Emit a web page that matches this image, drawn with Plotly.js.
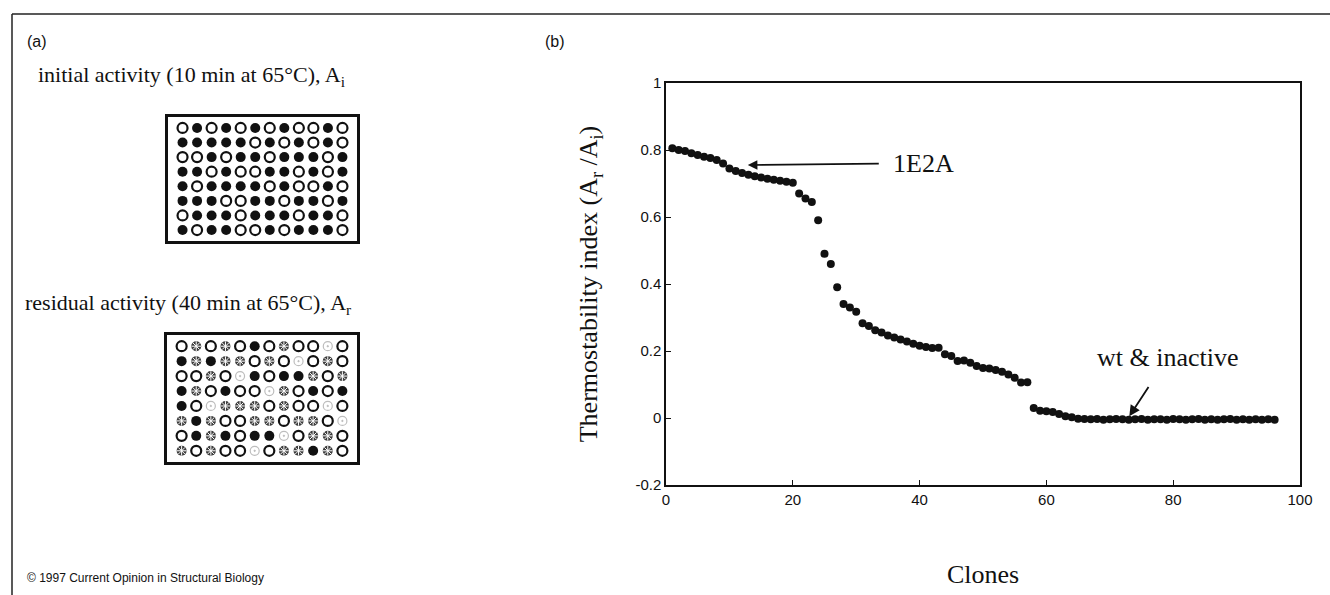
<!DOCTYPE html>
<html>
<head>
<meta charset="utf-8">
<script src="https://cdn.plot.ly/plotly-3.0.1.min.js"></script>
<style>html,body{margin:0;padding:0;background:#fff;}#chart{width:1330px;height:595px;}</style>
</head>
<body>
<div id="chart"></div>
<script>
// ---------- DATA ----------
const clones = [1,2,3,4,5,6,7,8,9,10,11,12,13,14,15,16,17,18,19,20,21,22,23,24,25,26,27,28,29,30,31,32,
  33,34,35,36,37,38,39,40,41,42,43,44,45,46,47,48,49,50,51,52,53,54,55,56,57,58,59,60,61,62,63,64,
  65,66,67,68,69,70,71,72,73,74,75,76,77,78,79,80,81,82,83,84,85,86,87,88,89,90,91,92,93,94,95,96];
const thermostability = [0.805,0.800,0.797,0.790,0.785,0.780,0.776,0.770,0.760,0.745,0.737,0.731,0.726,0.722,0.718,0.714,
  0.711,0.708,0.705,0.702,0.670,0.655,0.645,0.590,0.490,0.460,0.390,0.340,0.330,0.317,0.283,0.275,
  0.262,0.255,0.246,0.240,0.234,0.228,0.222,0.216,0.212,0.209,0.210,0.190,0.185,0.170,0.172,0.165,
  0.155,0.149,0.148,0.143,0.138,0.130,0.120,0.106,0.107,0.030,0.022,0.020,0.018,0.012,0.005,0.002,
  -0.002,-0.003,-0.004,-0.003,-0.005,-0.004,-0.003,-0.004,-0.005,-0.004,-0.003,-0.005,-0.004,-0.004,-0.005,-0.003,
  -0.004,-0.005,-0.004,-0.003,-0.005,-0.004,-0.005,-0.004,-0.003,-0.005,-0.004,-0.005,-0.004,-0.005,-0.004,-0.005];
const xTickVals = [0,20,40,60,80,100];
const xTickText = ["0","20","40","60","80","100"];
const yTickVals = [-0.2,0,0.2,0.4,0.6,0.8,1];
const yTickText = ["-0.2","0","0.2","0.4","0.6","0.8","1"];

// 96-well plates: O = open (inactive), X = filled (active), S = partially active (speckled), F = faint
const plateInitial = [
  "OXOXOXOXOOXO",
  "XXXXXOXOXOXO",
  "OOXOXXOXXXOX",
  "XXOXOOXXOXOX",
  "XOXXXXOXOOXO",
  "XXXOOXXOXXOX",
  "OXXXOXXXOXXO",
  "XOXXOOXOXXXO"
];
const plateResidual = [
  "OSOSOXOSOOFO",
  "XSXSSOSOFOSO",
  "OOSOFXOXXSOS",
  "XSOXOOFSOXOX",
  "XOFSSSOSOOFO",
  "SXSOOSSOSSOF",
  "OXSXOXXFOSSO",
  "SOSOOFOSSXSO"
];

const labelA = "(a)";
const labelB = "(b)";
const titleInitial = "initial activity (10 min at 65°C), A<sub>i</sub>";
const titleResidual = "residual activity (40 min at 65°C), A<sub>r</sub>";
const copyrightText = "© 1997 Current Opinion in Structural Biology";
const yTitle = "Thermostability index (A<sub>r</sub> /A<sub>i</sub>)";
const xTitle = "Clones";
const note1 = "1E2A";
const note2 = "wt &amp; inactive";
const note1Point = {clone:12.9, value:0.755};
const note2Point = {clone:72.9, value:0.0};

// ---------- BUILD ----------
const W = 1330, H = 595;
const px = v => v / W;
const py = v => 1 - v / H;
const serif = "Liberation Serif, Times New Roman, serif";
const sans = "Liberation Sans, Arial, sans-serif";

function plateTraces(rows, xa, ya) {
  const groups = {O:{x:[],y:[]}, X:{x:[],y:[]}, S:{x:[],y:[]}, F:{x:[],y:[]}};
  rows.forEach((row, r) => {
    [...row].forEach((c, k) => { groups[c].x.push(k + 1); groups[c].y.push(r + 1); });
  });
  const base = {type:'scatter', mode:'markers', xaxis:xa, yaxis:ya, hoverinfo:'skip', showlegend:false};
  return [
    Object.assign({}, base, {x:groups.O.x, y:groups.O.y,
      marker:{symbol:'circle-open', size:10, color:'#111', line:{width:2.2, color:'#111'}}}),
    Object.assign({}, base, {x:groups.X.x, y:groups.X.y,
      marker:{symbol:'circle', size:10, color:'#111'}}),
    Object.assign({}, base, {x:groups.S.x, y:groups.S.y,
      marker:{symbol:'circle', size:10, color:'#3c3c3c'}}),
    Object.assign({}, base, {x:groups.S.x, y:groups.S.y,
      marker:{symbol:'asterisk-open', size:8, color:'#fff', line:{width:1, color:'#fff'}}}),
    Object.assign({}, base, {x:groups.F.x, y:groups.F.y,
      marker:{symbol:'circle-open-dot', size:9, color:'#bdbdbd', line:{width:1.2, color:'#bdbdbd'}}})
  ];
}

const traces = [
  {type:'scatter', mode:'markers', x:clones, y:thermostability, xaxis:'x', yaxis:'y',
   marker:{symbol:'circle', size:8, color:'#111'}, hoverinfo:'x+y', showlegend:false}
].concat(plateTraces(plateInitial, 'x2', 'y2'), plateTraces(plateResidual, 'x3', 'y3'));

const plateAxis = (dom) => ({domain:dom, showline:true, mirror:true, linewidth:2.5, linecolor:'#111',
  ticks:'', showticklabels:false, showgrid:false, zeroline:false, fixedrange:true});

const layout = {
  width: W, height: H,
  margin: {l:0, r:0, t:0, b:0},
  paper_bgcolor:'#fff', plot_bgcolor:'#fff',
  showlegend:false,
  font:{family:sans, color:'#111'},
  xaxis: {
    domain:[px(666), px(1300)], range:[0,100],
    tickvals:xTickVals, ticktext:xTickText, ticks:'inside', ticklen:5, tickwidth:1.2, tickcolor:'#111',
    showline:true, mirror:true, linewidth:1.5, linecolor:'#111',
    showgrid:false, zeroline:false,
    tickfont:{family:sans, size:15, color:'#111'},
    title:{text:xTitle, font:{family:serif, size:26, color:'#111'}, standoff:58}
  },
  yaxis: {
    domain:[py(485), py(83)], range:[-0.2,1],
    tickvals:yTickVals, ticktext:yTickText, ticks:'inside', ticklen:5, tickwidth:1.2, tickcolor:'#111',
    showline:true, mirror:true, linewidth:1.5, linecolor:'#111',
    showgrid:false, zeroline:false,
    tickfont:{family:sans, size:15, color:'#111'},
    title:{text:yTitle, font:{family:serif, size:26, color:'#111'}, standoff:30}
  },
  xaxis2: Object.assign(plateAxis([px(168), px(357)]), {range:[0,13], anchor:'y2'}),
  yaxis2: Object.assign(plateAxis([py(241), py(117)]), {range:[8.75,0.25], anchor:'x2'}),
  xaxis3: Object.assign(plateAxis([px(167), px(357)]), {range:[0,13], anchor:'y3'}),
  yaxis3: Object.assign(plateAxis([py(462), py(335)]), {range:[8.75,0.25], anchor:'x3'}),
  shapes: [
    {type:'line', xref:'paper', yref:'paper', x0:px(12), x1:px(1330), y0:py(14), y1:py(14), line:{color:'#222', width:1.5}},
    {type:'line', xref:'paper', yref:'paper', x0:px(12), x1:px(12), y0:py(14), y1:py(595), line:{color:'#222', width:1.5}}
  ],
  annotations: [
    {xref:'paper', yref:'paper', x:px(25), y:py(42), xanchor:'left', yanchor:'middle', showarrow:false,
     text:labelA, font:{family:sans, size:16, color:'#111'}},
    {xref:'paper', yref:'paper', x:px(543), y:py(42), xanchor:'left', yanchor:'middle', showarrow:false,
     text:labelB, font:{family:sans, size:16, color:'#111'}},
    {xref:'paper', yref:'paper', x:px(36), y:py(76), xanchor:'left', yanchor:'middle', showarrow:false,
     text:titleInitial, font:{family:serif, size:22, color:'#111'}},
    {xref:'paper', yref:'paper', x:px(23), y:py(304), xanchor:'left', yanchor:'middle', showarrow:false,
     text:titleResidual, font:{family:serif, size:22, color:'#111'}},
    {xref:'paper', yref:'paper', x:px(25), y:py(578), xanchor:'left', yanchor:'middle', showarrow:false,
     text:copyrightText, font:{family:sans, size:12, color:'#111'}},
    {xref:'x', yref:'y', x:note1Point.clone, y:note1Point.value, text:note1, showarrow:true,
     ax:176, ay:-2, borderpad:14, font:{family:serif, size:26, color:'#111'},
     arrowhead:2, arrowsize:1.2, arrowwidth:1.6, arrowcolor:'#111', standoff:0},
    {xref:'x', yref:'y', x:note2Point.clone, y:note2Point.value, text:note2, showarrow:true,
     ax:40, ay:-61, borderpad:15, font:{family:serif, size:26, color:'#111'},
     arrowhead:2, arrowsize:1.2, arrowwidth:1.8, arrowcolor:'#111', standoff:2}
  ]
};

Plotly.newPlot('chart', traces, layout, {displayModeBar:false});
</script>
</body>
</html>
